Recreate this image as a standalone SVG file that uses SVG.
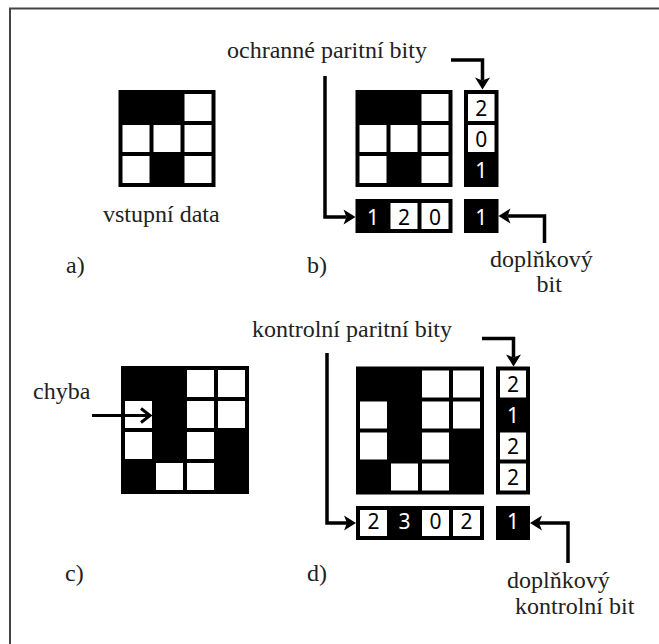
<svg xmlns="http://www.w3.org/2000/svg" width="659" height="644" viewBox="0 0 659 644">
<style>
.lbl{font-family:"Liberation Serif","DejaVu Serif","Times New Roman",serif;font-size:24px;fill:#222}
.d{font-family:"Noto Sans","DejaVu Sans",sans-serif;font-size:21px;text-anchor:middle}
.dk{fill:#000}
.wt{fill:#fff}
.w{fill:#fff}
.b{fill:#000}
.arr{fill:none;stroke:#000;stroke-width:3.5;stroke-linejoin:miter;marker-end:url(#ah)}
.arr2{fill:none;stroke:#000;stroke-width:3;marker-end:url(#ch)}
</style>
<defs>
<marker id="ah" markerUnits="userSpaceOnUse" markerWidth="16" markerHeight="16" refX="3" refY="7.5" orient="auto" overflow="visible">
<path d="M0,0 L12,7.5 L0,15 L3,7.5 Z" fill="#000"/>
</marker>
<marker id="ch" markerUnits="userSpaceOnUse" markerWidth="16" markerHeight="18" refX="8" refY="8" orient="auto" overflow="visible">
<path d="M1,1 L10,8 L1,15" fill="none" stroke="#000" stroke-width="3"/>
</marker>
</defs>
<rect width="659" height="644" fill="#fff"/>
<path d="M10,644 V8.5 H659" fill="none" stroke="#444" stroke-width="2"/>

<g id="grid-a">
<rect class="b" x="118.5" y="90" width="97" height="97"/>
<rect class="w" x="184.5" y="94" width="27" height="27"/>
<rect class="w" x="122.5" y="125" width="27" height="27"/>
<rect class="w" x="153.5" y="125" width="27" height="27"/>
<rect class="w" x="184.5" y="125" width="27" height="27"/>
<rect class="w" x="122.5" y="156" width="27" height="27"/>
<rect class="w" x="184.5" y="156" width="27" height="27"/>
</g>

<g id="grid-b">
<rect class="b" x="355.5" y="90" width="97" height="97"/>
<rect class="w" x="421.5" y="94" width="27" height="27"/>
<rect class="w" x="359.5" y="125" width="27" height="27"/>
<rect class="w" x="390.5" y="125" width="27" height="27"/>
<rect class="w" x="421.5" y="125" width="27" height="27"/>
<rect class="w" x="359.5" y="156" width="27" height="27"/>
<rect class="w" x="421.5" y="156" width="27" height="27"/>
</g>

<g id="col-b">
<rect class="b" x="464" y="90" width="34.5" height="97"/>
<rect class="w" x="468" y="94" width="26.5" height="27"/>
<rect class="w" x="468" y="125" width="26.5" height="27"/>
<text class="d dk" x="481.25" y="115.5">2</text>
<text class="d dk" x="481.25" y="146.5">0</text>
<text class="d wt" x="481.25" y="177.5">1</text>
</g>

<g id="row-b">
<rect class="b" x="355.5" y="199" width="97" height="34"/>
<rect class="w" x="390.5" y="203" width="27" height="26"/>
<rect class="w" x="421.5" y="203" width="27" height="26"/>
<text class="d wt" x="373" y="224.5">1</text>
<text class="d dk" x="404" y="224.5">2</text>
<text class="d dk" x="435" y="224.5">0</text>
</g>

<g id="corner-b">
<rect class="b" x="464" y="199" width="34.5" height="34"/>
<text class="d wt" x="481.25" y="224.5">1</text>
</g>

<g id="grid-c">
<rect class="b" x="121" y="366" width="128" height="128"/>
<rect class="w" x="187" y="370" width="27" height="27"/>
<rect class="w" x="218" y="370" width="27" height="27"/>
<rect class="w" x="125" y="401" width="27" height="27"/>
<rect class="w" x="187" y="401" width="27" height="27"/>
<rect class="w" x="218" y="401" width="27" height="27"/>
<rect class="w" x="125" y="432" width="27" height="27"/>
<rect class="w" x="187" y="432" width="27" height="27"/>
<rect class="w" x="156" y="463" width="27" height="27"/>
<rect class="w" x="187" y="463" width="27" height="27"/>
</g>

<g id="grid-d">
<rect class="b" x="356" y="366.5" width="128" height="128"/>
<rect class="w" x="422" y="370.5" width="27" height="27"/>
<rect class="w" x="453" y="370.5" width="27" height="27"/>
<rect class="w" x="360" y="401.5" width="27" height="27"/>
<rect class="w" x="422" y="401.5" width="27" height="27"/>
<rect class="w" x="453" y="401.5" width="27" height="27"/>
<rect class="w" x="360" y="432.5" width="27" height="27"/>
<rect class="w" x="422" y="432.5" width="27" height="27"/>
<rect class="w" x="391" y="463.5" width="27" height="27"/>
<rect class="w" x="422" y="463.5" width="27" height="27"/>
</g>

<g id="col-d">
<rect class="b" x="496" y="366.5" width="34" height="128"/>
<rect class="w" x="500" y="370.5" width="26" height="27"/>
<rect class="w" x="500" y="432.5" width="26" height="27"/>
<rect class="w" x="500" y="463.5" width="26" height="27"/>
<text class="d dk" x="513" y="392">2</text>
<text class="d wt" x="513" y="423">1</text>
<text class="d dk" x="513" y="454">2</text>
<text class="d dk" x="513" y="485">2</text>
</g>

<g id="row-d">
<rect class="b" x="356" y="506" width="128" height="34"/>
<rect class="w" x="360" y="510" width="27" height="26"/>
<rect class="w" x="422" y="510" width="27" height="26"/>
<rect class="w" x="453" y="510" width="27" height="26"/>
<text class="d dk" x="373.5" y="528.5">2</text>
<text class="d wt" x="404.5" y="528.5">3</text>
<text class="d dk" x="435.5" y="528.5">0</text>
<text class="d dk" x="466.5" y="528.5">2</text>
</g>

<g id="corner-d">
<rect class="b" x="496" y="506" width="34" height="34"/>
<text class="d wt" x="513" y="528.5">1</text>
</g>

<g id="connectors">
<path class="arr" d="M451,60 H482.5 V80.5"/>
<path class="arr" d="M325,76 V217 H346.5"/>
<path class="arr" d="M544.5,243 V216 H507.5"/>
<path class="arr2" d="M92,415.5 H148"/>
<path class="arr" d="M482,338.5 H513.5 V357.5"/>
<path class="arr" d="M327,353 V523 H347"/>
<path class="arr" d="M568,563 V523 H539"/>
</g>

<g id="labels">
<text class="lbl" x="227" y="58">ochranné paritní bity</text>
<text class="lbl" x="103" y="222">vstupní data</text>
<text class="lbl" x="66" y="273">a)</text>
<text class="lbl" x="307" y="273">b)</text>
<text class="lbl" x="490" y="267">doplňkový</text>
<text class="lbl" x="536.5" y="292">bit</text>
<text class="lbl" x="252" y="337">kontrolní paritní bity</text>
<text class="lbl" x="33" y="399">chyba</text>
<text class="lbl" x="65" y="581">c)</text>
<text class="lbl" x="307" y="581">d)</text>
<text class="lbl" x="507" y="588">doplňkový</text>
<text class="lbl" x="515" y="614">kontrolní bit</text>
</g>
</svg>
